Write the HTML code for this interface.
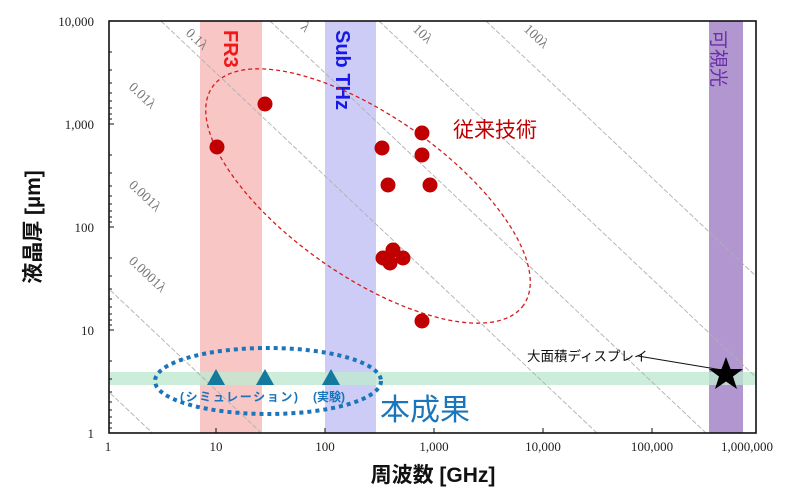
<!DOCTYPE html>
<html><head><meta charset="utf-8"><style>
html,body{margin:0;background:#fff;width:793px;height:497px;overflow:hidden}
svg{display:block}
text{font-family:"Liberation Sans","Noto Sans CJK JP",sans-serif}
.tk text{font-family:"Liberation Serif","Noto Serif CJK SC",serif;font-size:13px;fill:#222}
.dl text{font-family:"Liberation Serif",serif;font-size:14px;fill:#777}
</style></head><body>
<svg width="793" height="497" viewBox="0 0 793 497">
<defs><clipPath id="c"><rect x="109" y="21" width="647" height="412"/></clipPath></defs>
<rect x="200" y="21" width="62" height="412" fill="#f9c6c6"/>
<rect x="325" y="21" width="51" height="412" fill="#ccccf7"/>
<rect x="709" y="21" width="34" height="412" fill="#b196d0"/>
<rect x="109" y="372" width="647" height="13" fill="#bfe8cf" opacity="0.8"/>
<g clip-path="url(#c)" stroke="#b0b0b0" stroke-width="0.9" stroke-dasharray="5,2" fill="none">
<path d="M-200 -3 l1000 945"/>
<path d="M-200 100 l1000 945"/>
<path d="M-200 203 l1000 945"/>
<path d="M161 21 l1000 945"/>
<path d="M270 21 l1000 945"/>
<path d="M379 21 l1000 945"/>
<path d="M486 21 l1000 945"/>
</g>
<g class="dl">
<text transform="translate(185,34) rotate(43)">0.1λ</text>
<text transform="translate(300,28) rotate(43)">λ</text>
<text transform="translate(412,30) rotate(43)">10λ</text>
<text transform="translate(523,30) rotate(43)">100λ</text>
<text transform="translate(128,88) rotate(43)">0.01λ</text>
<text transform="translate(128,186) rotate(43)">0.001λ</text>
<text transform="translate(128,262) rotate(43)">0.0001λ</text>
</g>
<rect x="109" y="21" width="647" height="412" fill="none" stroke="#111" stroke-width="1.6"/>
<g stroke="#111" stroke-width="1">
<path d="M109 124h5M109 227h5M109 330h5M216 433v-5M325 433v-5M434 433v-5M543 433v-5M652 433v-5"/>
<path d="M109 52h3M109 70h3M109 83h3M109 93h3M109 101h3M109 108h3M109 114h3M109 119h3M109 155h3M109 173h3M109 186h3M109 196h3M109 204h3M109 211h3M109 217h3M109 222h3M109 258h3M109 276h3M109 289h3M109 299h3M109 307h3M109 314h3M109 320h3M109 325h3M109 361h3M109 379h3M109 392h3M109 402h3M109 410h3M109 417h3M109 423h3M109 428h3"/>
</g>
<g class="tk" text-anchor="end">
<text x="94" y="26">10,000</text><text x="94" y="129">1,000</text><text x="94" y="232">100</text><text x="94" y="335">10</text><text x="94" y="438">1</text>
</g>
<g class="tk" text-anchor="middle">
<text x="108" y="451">1</text><text x="216" y="451">10</text><text x="325" y="451">100</text><text x="434" y="451">1,000</text><text x="543" y="451">10,000</text><text x="652" y="451">100,000</text><text x="747" y="451">1,000,000</text>
</g>
<text x="433" y="482" text-anchor="middle" font-size="21" font-weight="bold" fill="#111">周波数 [GHz]</text>
<text transform="translate(40,227) rotate(-90)" text-anchor="middle" font-size="21" font-weight="bold" fill="#111">液晶厚 [µm]</text>
<text transform="translate(224,30) rotate(90)" font-size="20" font-weight="bold" fill="#f01818">FR3</text>
<text transform="translate(336,30) rotate(90)" font-size="20" font-weight="bold" fill="#1818e8">Sub THz</text>
<text transform="translate(712,30) rotate(90)" font-size="19" fill="#6a2fa8">可視光</text>
<ellipse cx="368" cy="196" rx="190" ry="80" transform="rotate(35 368 196)" fill="none" stroke="#d51c1c" stroke-width="1.3" stroke-dasharray="4,3"/>
<g fill="#c00000">
<circle cx="217" cy="147" r="7.5"/><circle cx="265" cy="104" r="7.5"/><circle cx="382" cy="148" r="7.5"/>
<circle cx="422" cy="133" r="7.5"/><circle cx="422" cy="155" r="7.5"/><circle cx="388" cy="185" r="7.5"/><circle cx="430" cy="185" r="7.5"/>
<circle cx="383" cy="258" r="7.5"/><circle cx="403" cy="258" r="7.5"/><circle cx="393" cy="250" r="7.5"/><circle cx="390" cy="263" r="7.5"/>
<circle cx="422" cy="321" r="7.5"/>
</g>
<text x="453" y="137" font-size="21" fill="#c00000">従来技術</text>
<ellipse cx="268" cy="381" rx="113" ry="33" fill="none" stroke="#1b75bb" stroke-width="4" stroke-dasharray="4,4"/>
<g fill="#137a9e">
<path d="M216 369l9 16h-18z"/><path d="M265 369l9 16h-18z"/><path d="M331 369l9 16h-18z"/>
</g>
<text x="180" y="401" font-size="12" font-weight="bold" fill="#1b75bb" textLength="118">(シミュレーション)</text>
<text x="313" y="401" font-size="12" font-weight="bold" fill="#1b75bb">(実験)</text>
<text x="380" y="420" font-size="30" fill="#1b75bb">本成果</text>
<text x="527" y="361" font-size="13.5" fill="#111">大面積ディスプレイ</text>
<line x1="638" y1="356" x2="722" y2="370" stroke="#111" stroke-width="1"/>
<path d="M726 357 l4.5 12 h12.5 l-10 7.5 l4 12.5 l-11 -7.5 l-11 7.5 l4 -12.5 l-10 -7.5 h12.5z" fill="#000"/>
</svg>
</body></html>
